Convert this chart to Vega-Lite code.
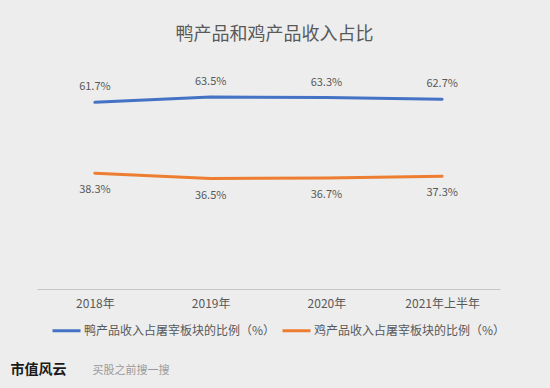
{
  "$schema": "https://vega.github.io/schema/vega-lite/v6.json",
  "autosize": "none",
  "width": 463,
  "height": 242,
  "padding": {"left": 37, "top": 47, "right": 50, "bottom": 99},
  "background": "#ededed",
  "config": {
    "font": "Noto Sans CJK SC",
    "view": {"stroke": null}
  },
  "title": {
    "text": "鸭产品和鸡产品收入占比",
    "fontSize": 18,
    "fontWeight": "normal",
    "color": "#595959",
    "anchor": "middle",
    "dx": 6,
    "offset": 3
  },
  "data": {
    "values": [
      {"year": "2018年", "series": "鸭产品收入占屠宰板块的比例（%）", "value": 0.617},
      {"year": "2019年", "series": "鸭产品收入占屠宰板块的比例（%）", "value": 0.635},
      {"year": "2020年", "series": "鸭产品收入占屠宰板块的比例（%）", "value": 0.633},
      {"year": "2021年上半年", "series": "鸭产品收入占屠宰板块的比例（%）", "value": 0.627},
      {"year": "2018年", "series": "鸡产品收入占屠宰板块的比例（%）", "value": 0.383},
      {"year": "2019年", "series": "鸡产品收入占屠宰板块的比例（%）", "value": 0.365},
      {"year": "2020年", "series": "鸡产品收入占屠宰板块的比例（%）", "value": 0.367},
      {"year": "2021年上半年", "series": "鸡产品收入占屠宰板块的比例（%）", "value": 0.373}
    ]
  },
  "encoding": {
    "x": {
      "field": "year",
      "type": "nominal",
      "sort": null,
      "scale": {"type": "point", "padding": 0.5},
      "axis": {
        "labelAngle": 0,
        "labelFontSize": 12,
        "labelColor": "#595959",
        "labelPadding": 9,
        "ticks": false,
        "domainColor": "#c6c6c6",
        "domainWidth": 1,
        "grid": false,
        "title": "市值风云",
        "titleFontSize": 14,
        "titleFontWeight": "bold",
        "titleColor": "#1a1a1a",
        "titleAnchor": "start",
        "titleX": -27,
        "titleY": 73
      }
    },
    "y": {
      "field": "value",
      "type": "quantitative",
      "scale": {"domain": [0, 0.8]},
      "axis": {
        "labels": false,
        "ticks": false,
        "domain": false,
        "grid": false,
        "title": "买股之前搜一搜",
        "titleAngle": 0,
        "titleFontSize": 11,
        "titleFontWeight": "normal",
        "titleColor": "#9a9a9a",
        "titleX": 55,
        "titleY": 323,
        "titleAlign": "left",
        "titleBaseline": "middle"
      }
    }
  },
  "layer": [
    {
      "mark": {"type": "line", "strokeWidth": 3, "strokeCap": "round"},
      "encoding": {
        "color": {
          "field": "series",
          "type": "nominal",
          "sort": null,
          "scale": {
            "domain": ["鸭产品收入占屠宰板块的比例（%）", "鸡产品收入占屠宰板块的比例（%）"],
            "range": ["#4472c4", "#ed7d31"]
          },
          "legend": {
            "orient": "none",
            "direction": "horizontal",
            "legendX": 14,
            "legendY": 268,
            "title": null,
            "symbolType": "stroke",
            "symbolSize": 784,
            "symbolStrokeWidth": 3,
            "labelFontSize": 12,
            "labelColor": "#595959",
            "labelLimit": 300,
            "labelOffset": 2,
            "columnPadding": 0
          }
        }
      }
    },
    {
      "transform": [{"filter": "datum.value > 0.5"}],
      "mark": {"type": "text", "dy": -15, "fontSize": 11, "color": "#595959"},
      "encoding": {"text": {"field": "value", "type": "quantitative", "format": ".1%"}}
    },
    {
      "transform": [{"filter": "datum.value < 0.5"}],
      "mark": {"type": "text", "dy": 17, "fontSize": 11, "color": "#595959"},
      "encoding": {"text": {"field": "value", "type": "quantitative", "format": ".1%"}}
    }
  ]
}
